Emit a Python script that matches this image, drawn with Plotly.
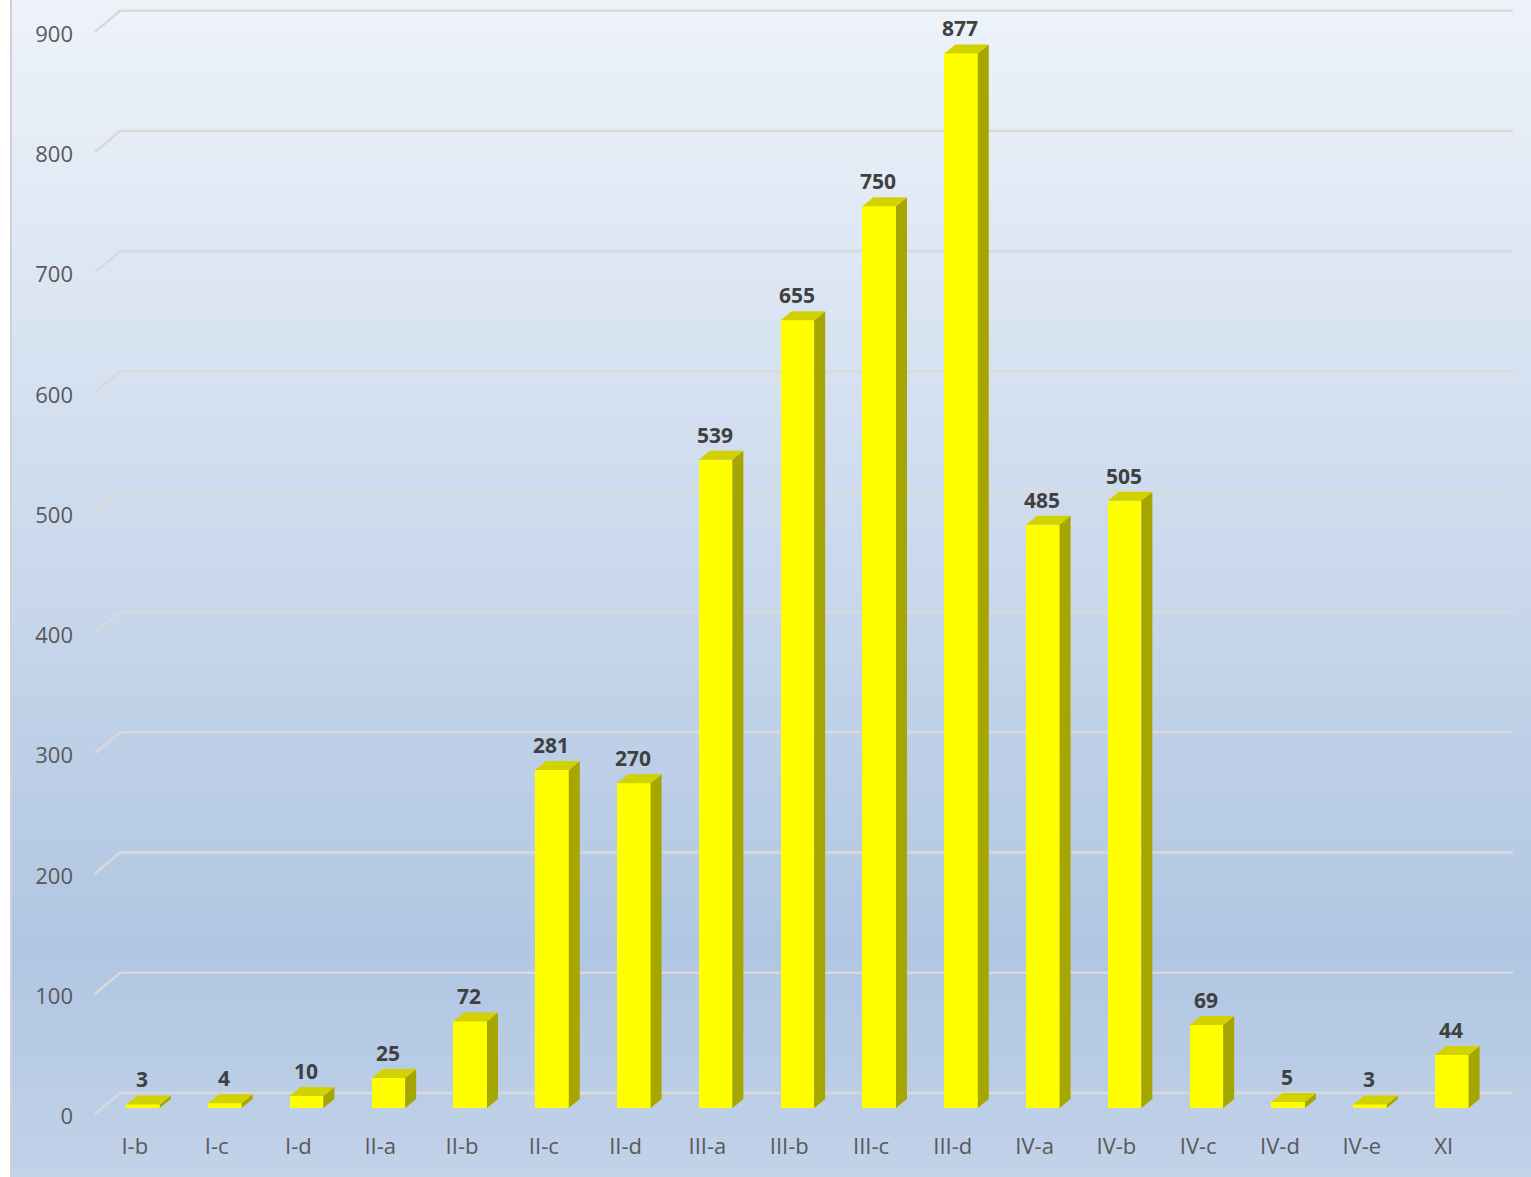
import plotly.graph_objects as go

# ---- data ----
categories = ["I-b", "I-c", "I-d", "II-a", "II-b", "II-c", "II-d", "III-a", "III-b",
              "III-c", "III-d", "IV-a", "IV-b", "IV-c", "IV-d", "IV-e", "XI"]
values = [3, 4, 10, 25, 72, 281, 270, 539, 655, 750, 877, 485, 505, 69, 5, 3, 44]
y_ticks = [0, 100, 200, 300, 400, 500, 600, 700, 800, 900]

# ---- geometry / style (pixel-derived) ----
W, H = 1531, 1177
ML, MR, MT, MB = 80, 0, 0, 49
PX_PER_CAT = 81.8
PX_PER_UNIT = 1.2025
X0_PX = 143.0          # pixel of first category centre
BASE_PX = 1108.0       # pixel of value 0 (bar front base)

def xd(px):
    return (px - X0_PX) / PX_PER_CAT

def yd(py):
    return (BASE_PX - py) / PX_PER_UNIT

x_range = [xd(ML), xd(W - MR)]
y_range = [yd(H - MB), yd(MT)]

bar_w = 0.41
dx = 11 / PX_PER_CAT     # depth x offset of bars
dy = 9 / PX_PER_UNIT     # depth y offset of bars
g_front = -6 / PX_PER_UNIT
g_back = 15 / PX_PER_UNIT
g_x0, g_x1, g_x2 = xd(95), xd(120), xd(1513)

FRONT = "#ffff00"
SIDE = "#a6a600"
TOP = "#d2d200"
GRID = "#d9d9d9"
FONT = "Open Sans"

fig = go.Figure()

# side faces
sx, sy = [], []
for i, v in enumerate(values):
    r = i + bar_w / 2
    sx += [r, r + dx, r + dx, r, r, None]
    sy += [0, dy, v + dy, v, 0, None]
fig.add_trace(go.Scatter(x=sx, y=sy, mode="lines", fill="toself", fillcolor=SIDE,
                         line=dict(width=0, color=SIDE), hoverinfo="skip", showlegend=False))

# top faces
tx, ty = [], []
for i, v in enumerate(values):
    l, r = i - bar_w / 2, i + bar_w / 2
    tx += [l, r, r + dx, l + dx, l, None]
    ty += [v, v, v + dy, v + dy, v, None]
fig.add_trace(go.Scatter(x=tx, y=ty, mode="lines", fill="toself", fillcolor=TOP,
                         line=dict(width=0, color=TOP), hoverinfo="skip", showlegend=False))

# front faces
fig.add_trace(go.Bar(x=list(range(len(values))), y=values, width=bar_w,
                     marker=dict(color=FRONT, line=dict(width=0)), showlegend=False))

# value labels
for i, v in enumerate(values):
    fig.add_annotation(x=i - 0.01, y=v, text=f"<b>{v}</b>", showarrow=False,
                       yanchor="middle", yshift=25,
                       font=dict(family=FONT, size=21, color="#404040"))

# background gradient bands (figure-wide)
stops = [(0, (0xee, 0xf3, 0xfa)), (300, (0xdb, 0xe5, 0xf3)), (600, (0xc8, 0xd7, 0xeb)),
         (950, (0xb0, 0xc6, 0xe2)), (1177, (0xc2, 0xd2, 0xe9))]

def col_at(py):
    for (a, ca), (b, cb) in zip(stops[:-1], stops[1:]):
        if a <= py <= b:
            f = (py - a) / (b - a)
            c = [round(ca[k] + (cb[k] - ca[k]) * f) for k in range(3)]
            return "rgb(%d,%d,%d)" % tuple(c)
    return "rgb(%d,%d,%d)" % stops[-1][1]

pw = W - ML - MR
ph = H - MT - MB
def px2paper_x(px):
    return (px - ML) / pw
def py2paper_y(py):
    return (H - MB - py) / ph

step = 8
shapes = []
py = 0
while py < H:
    shapes.append(dict(type="rect", xref="paper", yref="paper", layer="below",
                       x0=px2paper_x(12), x1=px2paper_x(W + 2),
                       y0=py2paper_y(py + step + 0.5), y1=py2paper_y(py),
                       fillcolor=col_at(py + step / 2), line=dict(width=0)))
    py += step
shapes.append(dict(type="line", xref="paper", yref="paper", layer="below",
                   x0=px2paper_x(11), x1=px2paper_x(11), y0=py2paper_y(H), y1=py2paper_y(0),
                   line=dict(color="#d0d0d0", width=2)))

# gridlines (3D style with left wall edge) - below the bars
for t in y_ticks:
    shapes.append(dict(type="path", xref="x", yref="y", layer="below",
                       path=f"M {g_x0},{t + g_front} L {g_x1},{t + g_back} L {g_x2},{t + g_back}",
                       line=dict(color=GRID, width=2.5)))

fig.update_layout(
    width=W, height=H,
    margin=dict(l=ML, r=MR, t=MT, b=MB),
    paper_bgcolor="white",
    plot_bgcolor="rgba(0,0,0,0)",
    shapes=shapes,
    bargap=0,
    xaxis=dict(range=x_range, showgrid=False, zeroline=False, showline=False,
               tickmode="array", tickvals=[i - 0.1 for i in range(len(categories))],
               ticktext=categories, ticks="", ticklabelstandoff=3,
               tickfont=dict(family=FONT, size=22, color="#595959")),
    yaxis=dict(range=y_range, showgrid=False, zeroline=False, showline=False,
               tickmode="array", tickvals=[t + g_front - 2 for t in y_ticks],
               ticktext=[str(t) for t in y_ticks], ticks="", ticklabelstandoff=6,
               tickfont=dict(family=FONT, size=22, color="#595959")),
)

fig.write_html("out.html", config={"displayModeBar": False},
               post_script="document.body.style.margin='0';document.body.style.overflow='hidden';")
